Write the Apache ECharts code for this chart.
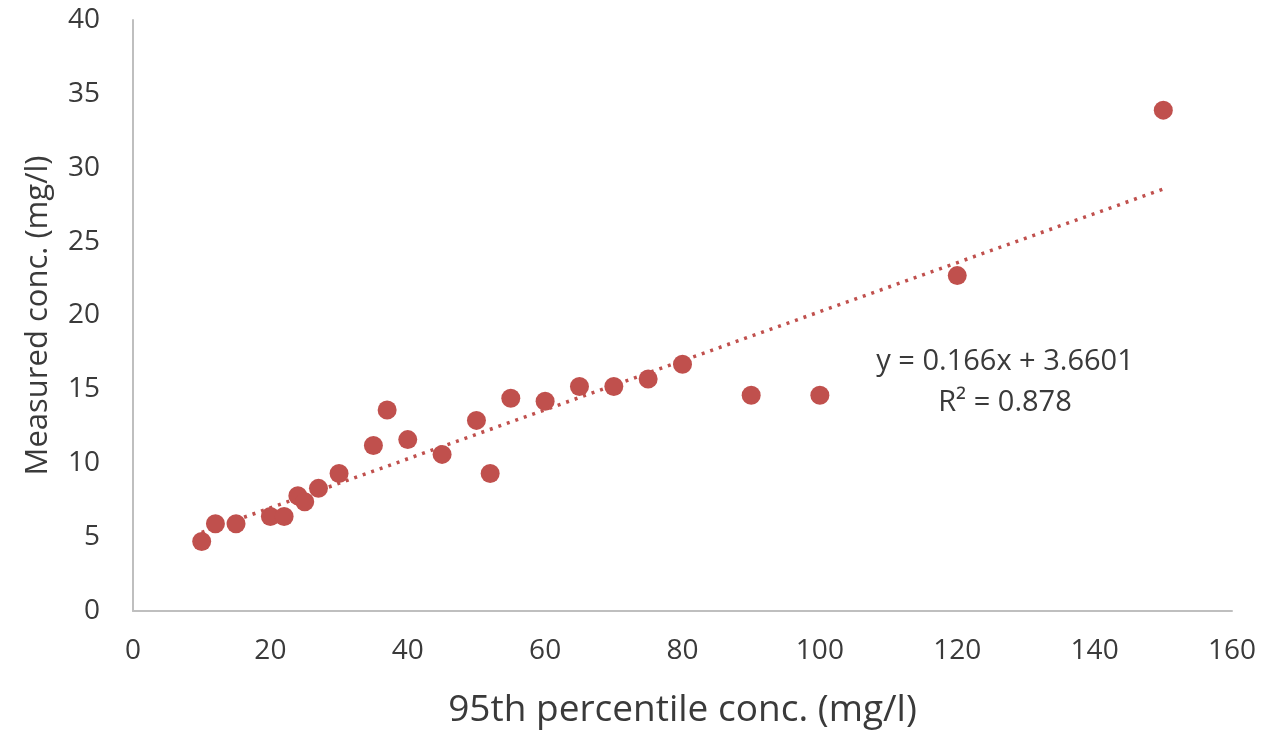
<!DOCTYPE html>
<html>
<head>
<meta charset="utf-8">
<script src="https://cdn.jsdelivr.net/npm/echarts@6/dist/echarts.min.js"></script>
<style>
  html, body { margin: 0; padding: 0; background: #fff; }
  #chart { width: 1284px; height: 737px; }
</style>
</head>
<body>
<div id="chart"></div>
<script>
// data
var percentile95 = [10, 12, 15, 20, 22, 24, 25, 27, 30, 35, 37, 40, 45, 50, 52, 55, 60, 65, 70, 75, 80, 90, 100, 120, 150];
var measured = [4.7, 5.9, 5.9, 6.4, 6.4, 7.8, 7.4, 8.3, 9.3, 11.2, 13.6, 11.6, 10.6, 12.9, 9.3, 14.4, 14.2, 15.2, 15.2, 15.7, 16.7, 14.6, 14.6, 22.7, 33.9];

// linear trendline as printed on the chart
var slope = 0.166;
var intercept = 3.6601;
var trendRange = [10, 150];
var rSquared = 0.878;

var red = '#C0504D';
var textColor = '#3a3a3a';
var fontName = '"Open Sans", "Liberation Sans", sans-serif';

var points = percentile95.map(function (x, i) { return [x, measured[i]]; });
var trend = trendRange.map(function (x) { return [x, slope * x + intercept]; });

var chart = echarts.init(document.getElementById('chart'));
chart.setOption({
  backgroundColor: '#fff',
  animation: false,
  grid: { left: 133, right: 52, top: 20, bottom: 126 },
  xAxis: {
    type: 'value',
    min: 0,
    max: 160,
    interval: 20,
    name: '95th percentile conc. (mg/l)',
    nameLocation: 'middle',
    nameGap: 81,
    nameTextStyle: { fontSize: 37, color: textColor, fontFamily: fontName },
    axisLine: { show: true, lineStyle: { color: '#BFBFBF', width: 2 } },
    axisTick: { show: false },
    splitLine: { show: false },
    axisLabel: { fontSize: 28, color: textColor, margin: 26, fontFamily: fontName }
  },
  yAxis: {
    type: 'value',
    min: 0,
    max: 40,
    interval: 5,
    name: 'Measured conc. (mg/l)',
    nameLocation: 'middle',
    nameGap: 79,
    nameTextStyle: { fontSize: 31, color: textColor, fontFamily: fontName },
    axisLine: { show: true, lineStyle: { color: '#BFBFBF', width: 2 } },
    axisTick: { show: false },
    splitLine: { show: false },
    axisLabel: { fontSize: 28, color: textColor, margin: 33, fontFamily: fontName }
  },
  series: [
    {
      name: 'Measured',
      type: 'scatter',
      data: points,
      symbol: 'circle',
      symbolSize: 19,
      itemStyle: { color: red, opacity: 1 },
      z: 3
    },
    {
      name: 'Trend',
      type: 'line',
      data: trend,
      showSymbol: false,
      lineStyle: { color: red, width: 3.5, type: [3, 6] },
      z: 2
    }
  ],
  graphic: [
    {
      type: 'text',
      x: 1005,
      y: 341,
      style: {
        text: 'y = ' + slope + 'x + ' + intercept + '\nR² = ' + rSquared,
        fontSize: 29,
        lineHeight: 41,
        fill: textColor,
        fontFamily: fontName,
        align: 'center',
        verticalAlign: 'top'
      }
    }
  ]
});
</script>
</body>
</html>
